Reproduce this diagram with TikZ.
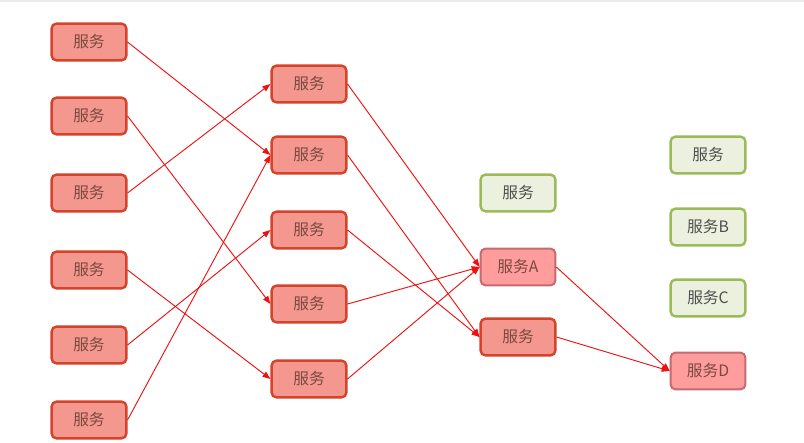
\documentclass[tikz,border=0pt]{standalone}
\usepackage{fontspec}
\setmainfont{Noto Sans CJK SC}
\usetikzlibrary{arrows.meta}
\definecolor{redfill}{HTML}{F4978E}
\definecolor{reddraw}{HTML}{D4432A}
\definecolor{pinkfill}{HTML}{FF9C9C}
\definecolor{pinkdraw}{HTML}{C46A70}
\definecolor{greenfill}{HTML}{EBF1DE}
\definecolor{greendraw}{HTML}{9BBB59}
\definecolor{redtext}{HTML}{7A4A40}
\definecolor{greentext}{HTML}{4F4F4F}
\definecolor{linkred}{HTML}{F01010}

\begin{document}
\begin{tikzpicture}[x=0.75pt,y=-0.75pt,
  svc/.style={draw=reddraw,fill=redfill,line width=1.8pt,rounded corners=3.5pt,
    minimum width=56pt,minimum height=27.5pt,inner sep=0pt,text=redtext,font=\fontsize{11.8}{14}\selectfont},
  svcmark/.style={svc,draw=pinkdraw,fill=pinkfill,line width=1.5pt},
  svcidle/.style={svc,draw=greendraw,fill=greenfill,text=greentext},
  link/.style={draw=linkred,line width=0.7pt,-{Triangle[length=6pt,width=4.5pt]}}]
\useasboundingbox (0,0) rectangle (804,443);
\draw[black!8,line width=0.8pt] (0,1) -- (804,1);
% first column
\node[svc] (a1) at (89,42) {服务};
\node[svc] (a2) at (89,116) {服务};
\node[svc] (a3) at (89,193) {服务};
\node[svc] (a4) at (89,270) {服务};
\node[svc] (a5) at (89,345) {服务};
\node[svc] (a6) at (89,420) {服务};
% second column
\node[svc] (b1) at (309,84) {服务};
\node[svc] (b2) at (309,155) {服务};
\node[svc] (b3) at (309,230) {服务};
\node[svc] (b4) at (309,304) {服务};
\node[svc] (b5) at (309,379) {服务};
% third column
\node[svcidle] (c1) at (518,193) {服务};
\node[svcmark] (sa) at (518,267) {服务A};
\node[svc] (c3) at (518,337) {服务};
% fourth column
\node[svcidle] (d1) at (708,155) {服务};
\node[svcidle] (sb) at (708,227) {服务B};
\node[svcidle] (sc) at (708,298) {服务C};
\node[svcmark] (sd) at (708,371) {服务D};
% calls
\draw[link] (a1.east) -- (b2.west);
\draw[link] (a2.east) -- (b4.west);
\draw[link] (a3.east) -- (b1.west);
\draw[link] (a4.east) -- (b5.west);
\draw[link] (a5.east) -- (b3.west);
\draw[link] (a6.east) -- (b2.west);
\draw[link] (b1.east) -- (sa.west);
\draw[link] (b2.east) -- (c3.west);
\draw[link] (b3.east) -- (c3.west);
\draw[link] (b4.east) -- (sa.west);
\draw[link] (b5.east) -- (sa.west);
\draw[link] (sa.east) -- (sd.west);
\draw[link] (c3.east) -- (sd.west);
\end{tikzpicture}
\end{document}
